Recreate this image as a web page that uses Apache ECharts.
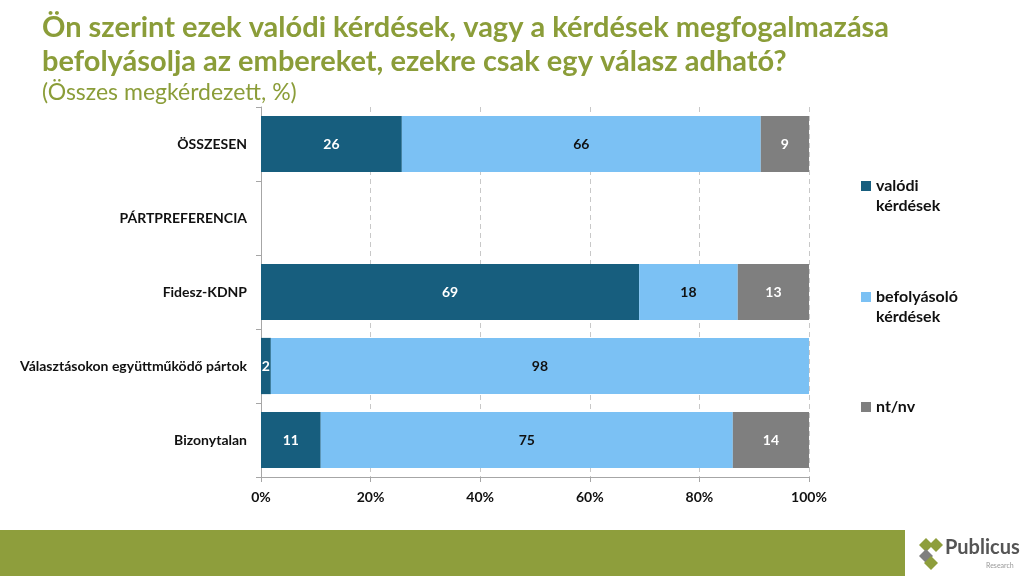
<!DOCTYPE html>
<html><head><meta charset="utf-8">
<script src="https://cdn.jsdelivr.net/npm/echarts@6/dist/echarts.min.js"></script>
<style>html,body{margin:0;padding:0;background:#fff}#c{width:1024px;height:576px}</style>
</head><body><div id="c"></div>
<script>
const categories = ['ÖSSZESEN', 'PÁRTPREFERENCIA', 'Fidesz-KDNP', 'Választásokon együttműködő pártok', 'Bizonytalan'];
const valodi = [25.7, null, 69, 1.8, 10.9];
const befolyasolo = [65.5, null, 18, 98.2, 75.2];
const ntnv = [8.8, null, 13, 0, 13.9];
const xTicks = [0, 20, 40, 60, 80, 100];
const seriesNames = ['valódi kérdések', 'befolyásoló kérdések', 'nt/nv'];

const FONT = 'Lato, "Open Sans", sans-serif';
const green = '#8B9D39';
const colors = ['#175E7E', '#7BC1F4', '#7F7F7F'];
const labelColors = ['#fff', '#111', '#fff'];

function mkSeries(i, data) {
  return {
    name: seriesNames[i], type: 'bar', stack: 'a', data: data, barWidth: '76%',
    itemStyle: { color: colors[i] },
    label: {
      show: true, position: 'inside', color: labelColors[i], fontFamily: FONT, fontWeight: 'bold', fontSize: 14,
      formatter: p => (p.value == null || p.value === 0) ? '' : String(Math.round(p.value))
    }
  };
}

function mkLegend(i, top, twoLine) {
  return {
    data: [seriesNames[i]], left: 856, top: top, orient: 'vertical',
    itemWidth: 10, itemHeight: 10, icon: 'rect',
    formatter: n => twoLine ? '\n' + n.replace(' ', '\n') : n,
    textStyle: { fontFamily: FONT, fontWeight: 'bold', fontSize: 16, color: '#111', lineHeight: 20 }
  };
}

const chart = echarts.init(document.getElementById('c'));
chart.setOption({
  animation: false,
  title: [{
    text: 'Ön szerint ezek valódi kérdések, vagy a kérdések megfogalmazása\nbefolyásolja az embereket, ezekre csak egy válasz adható?',
    subtext: '(Összes megkérdezett, %)',
    left: 37, top: 6, itemGap: 0,
    textStyle: { fontFamily: FONT, fontWeight: 'bold', fontSize: 29, color: green, lineHeight: 34 },
    subtextStyle: { fontFamily: FONT, fontSize: 23, color: green, lineHeight: 28 }
  }],
  legend: [mkLegend(0, 151, true), mkLegend(1, 262, true), mkLegend(2, 392, false)],
  grid: { left: 261, right: 215, top: 107, height: 370, containLabel: false },
  xAxis: {
    type: 'value', min: 0, max: 100, interval: 20,
    axisLine: { show: true, lineStyle: { color: '#A6A6A6' } },
    axisTick: { show: true, length: 5, lineStyle: { color: '#A6A6A6' } },
    splitLine: { show: true, lineStyle: { color: '#C8C8C8', type: [5, 4] } },
    axisLabel: { formatter: v => v + '%', fontFamily: FONT, fontWeight: 'bold', fontSize: 14, color: '#111', margin: 13 }
  },
  yAxis: {
    type: 'category', data: categories, inverse: true,
    axisLine: { show: true, lineStyle: { color: '#A6A6A6' } },
    axisTick: { show: true, length: 5, inside: false, lineStyle: { color: '#A6A6A6' } },
    axisLabel: { fontFamily: FONT, fontWeight: 'bold', fontSize: 14, color: '#111', margin: 14 }
  },
  series: [mkSeries(0, valodi), mkSeries(1, befolyasolo), mkSeries(2, ntnv)],
  graphic: [
    { type: 'rect', shape: { x: 0, y: 530, width: 905, height: 46 }, style: { fill: '#8E9E3C' }, silent: true },
    { type: 'polygon', shape: { points: [[926, 538], [933, 545], [926, 552], [919, 545]] }, style: { fill: '#8E9E3C' } },
    { type: 'polygon', shape: { points: [[936, 538], [943, 545], [936, 552], [929, 545]] }, style: { fill: '#8E9E3C' } },
    { type: 'polygon', shape: { points: [[926, 549], [933, 556], [926, 563], [919, 556]] }, style: { fill: '#7F7F7F' } },
    { type: 'polygon', shape: { points: [[931, 556], [938, 563], [931, 570], [924, 563]] }, style: { fill: '#8E9E3C' } },
    { type: 'text', left: 945, top: 538, style: { text: 'Publicus', fill: '#555', font: 'bold 20px ' + FONT } },
    { type: 'text', left: 986, top: 562, style: { text: 'Research', fill: '#999', font: '7px ' + FONT } }
  ]
});
</script></body></html>
